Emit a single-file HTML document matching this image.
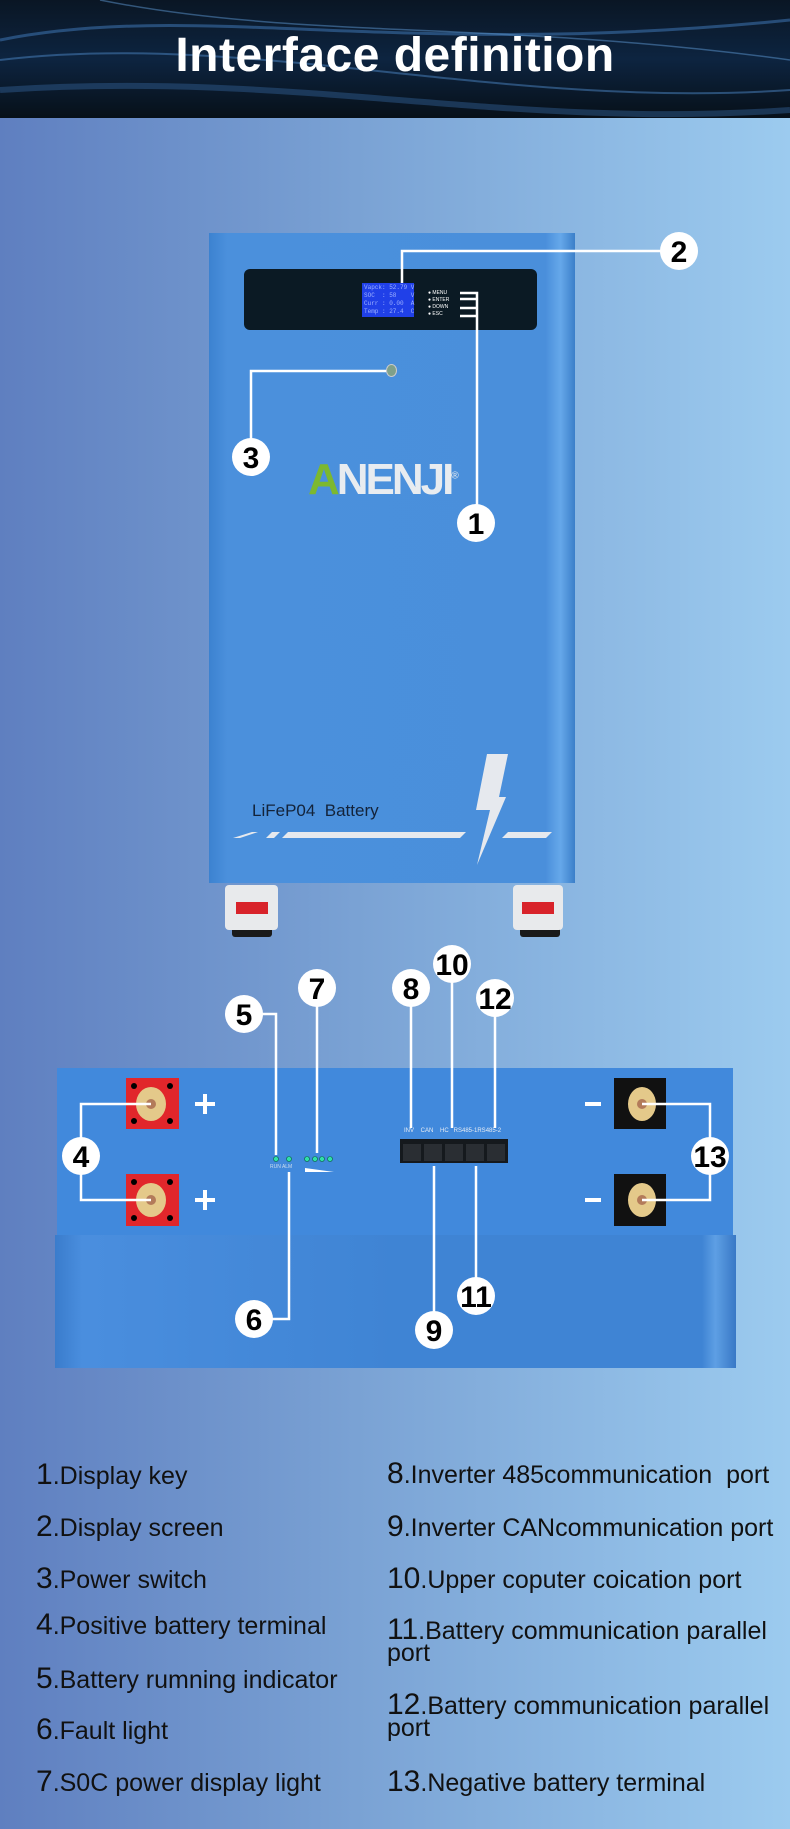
<!DOCTYPE html>
<html><head><meta charset="utf-8"><style>
*{margin:0;padding:0;box-sizing:border-box}
body{width:790px;height:1829px;position:relative;overflow:hidden;font-family:"Liberation Sans",sans-serif;background:linear-gradient(90deg,#5f7fc0 0%,#7aa2d4 45%,#9ccbef 100%)}
.abs{position:absolute}
.hdr{left:0;top:0;width:790px;height:118px;background:linear-gradient(180deg,#0a1624 0%,#0d2440 50%,#071019 100%);overflow:hidden}
.title{left:0;top:28px;width:790px;text-align:center;color:#fff;font-weight:bold;font-size:48px;letter-spacing:0.5px;font-family:"Liberation Sans Narrow","Liberation Sans",sans-serif}
.leg{font-family:"Liberation Sans Narrow","Liberation Sans",sans-serif;color:#111;font-size:25px;line-height:26px}
.leg b{font-size:30px;font-weight:normal}
</style></head><body>
<div class="abs hdr">
<svg width="790" height="118" style="position:absolute;left:0;top:0">
<path d="M0 40 C200 0 400 60 790 20" stroke="#3a6ea8" stroke-width="3" fill="none" opacity=".6"/>
<path d="M0 60 C250 30 500 110 790 90" stroke="#4c86c4" stroke-width="2" fill="none" opacity=".5"/>
<path d="M0 90 C300 70 500 130 790 110" stroke="#2d5a8c" stroke-width="6" fill="none" opacity=".5"/>
<path d="M100 0 C300 40 500 20 790 60" stroke="#5b95d0" stroke-width="1.5" fill="none" opacity=".5"/>
</svg>
</div>
<div class="abs title">Interface definition</div>

<!-- upper battery -->
<div class="abs" style="left:232px;top:925px;width:40px;height:12px;background:#1a1a1a;border-radius:3px"></div>
<div class="abs" style="left:520px;top:925px;width:40px;height:12px;background:#1a1a1a;border-radius:3px"></div>
<div class="abs" style="left:225px;top:885px;width:53px;height:45px;background:#e8eaec;border-radius:4px"></div>
<div class="abs" style="left:236px;top:902px;width:32px;height:12px;background:#d8232a"></div>
<div class="abs" style="left:513px;top:885px;width:50px;height:45px;background:#e8eaec;border-radius:4px"></div>
<div class="abs" style="left:522px;top:902px;width:32px;height:12px;background:#d8232a"></div>
<div class="abs" style="left:209px;top:233px;width:366px;height:650px;background:linear-gradient(90deg,#3c82d0 0%,#4b90dc 5%,#4a8fdb 92%,#66a8ea 96%,#3b7fc9 100%)"></div>
<div class="abs" style="left:244px;top:269px;width:293px;height:61px;background:#0b1a24;border-radius:6px"></div>
<div class="abs" style="left:362px;top:283px;width:52px;height:34px;background:#2040e8;color:#9db0ff;font-family:'Liberation Mono',monospace;font-size:6px;line-height:8px;padding:1px 2px;white-space:pre">Vapck: 52.79 V
SOC  : 58    V
Curr : 0.00  A
Temp : 27.4  C</div>
<div class="abs" style="left:428px;top:290px;color:#fff;font-size:5px;line-height:7px">
<div>● MENU</div><div>● ENTER</div><div>● DOWN</div><div>● ESC</div></div>
<div class="abs" style="left:386px;top:364px;width:11px;height:13px;border-radius:50%;background:#7fa08a;border:1px solid #ccc"></div>
<div class="abs" style="left:308px;top:455px;font-size:44px;font-weight:bold;color:#e8ecf0;font-family:'Liberation Sans Narrow','Liberation Sans',sans-serif;letter-spacing:-3px"><span style="color:#7cb82f">A</span>NENJI<sup style="font-size:10px;font-weight:normal">®</sup></div>
<div class="abs" style="left:252px;top:801px;font-size:17px;color:#13233a">LiFeP04&nbsp; Battery</div>
<svg class="abs" style="left:0;top:0" width="790" height="1829">
<g fill="#e6e9ee">
<polygon points="233,838 252,832 258,832 240,838"/>
<polygon points="266,838 272,832 280,832 274,838"/>
<polygon points="282,838 288,832 466,832 460,838"/>
<polygon points="502,838 508,832 552,832 546,838"/>
<polygon points="487,754 508,754 499,797 506,797 477,865 490,810 476,810"/>
</g>
<g stroke="#fff" stroke-width="2.5" fill="none">
<polyline points="402,283 402,251 662,251"/>
<polyline points="460,293 477,293 477,505"/>
<line x1="460" y1="299" x2="477" y2="299"/><line x1="460" y1="308" x2="477" y2="308"/><line x1="460" y1="316" x2="477" y2="316"/>
<polyline points="386,371 251,371 251,440"/>
</g>
</svg>

<!-- lower battery -->
<div class="abs" style="left:55px;top:1235px;width:681px;height:133px;background:linear-gradient(90deg,#3a7ccc 0%,#4a8ede 4%,#3f84d4 50%,#3f84d4 95%,#5e9fe4 97%,#3878c6 100%)"></div>
<div class="abs" style="left:57px;top:1068px;width:676px;height:167px;background:#4189dc"></div>
<div class="abs" style="left:126px;top:1078px;width:53px;height:51px;background:#e1262b"></div>
<div class="abs" style="left:126px;top:1174px;width:53px;height:52px;background:#e1262b"></div>
<div class="abs" style="left:614px;top:1078px;width:52px;height:51px;background:#111"></div>
<div class="abs" style="left:614px;top:1174px;width:52px;height:52px;background:#111"></div>
<div class="abs" style="left:400px;top:1139px;width:108px;height:24px;background:#15191d"></div>
<div class="abs" style="left:404px;top:1128px;color:#e6ecf4;font-size:6px;white-space:pre">INV    CAN    HC   RS485-1RS485-2</div>
<div class="abs" style="left:270px;top:1164px;color:#cde;font-size:5px">RUN ALM</div>
<svg class="abs" style="left:0;top:0" width="790" height="1829">
<g fill="#000"><circle cx="134" cy="1086" r="3"/><circle cx="170" cy="1086" r="3"/><circle cx="134" cy="1121" r="3"/><circle cx="170" cy="1121" r="3"/>
<circle cx="134" cy="1182" r="3"/><circle cx="170" cy="1182" r="3"/><circle cx="134" cy="1218" r="3"/><circle cx="170" cy="1218" r="3"/></g>
<g fill="#e4c98a"><ellipse cx="151" cy="1104" rx="15" ry="17"/><ellipse cx="151" cy="1200" rx="15" ry="17"/><ellipse cx="642" cy="1104" rx="14" ry="17"/><ellipse cx="642" cy="1200" rx="14" ry="17"/></g>
<g fill="#b37b5a"><circle cx="151" cy="1104" r="5"/><circle cx="151" cy="1200" r="5"/><circle cx="642" cy="1104" r="5"/><circle cx="642" cy="1200" r="5"/></g>
<g fill="#fff"><rect x="195" y="1102" width="20" height="4"/><rect x="203" y="1094" width="4" height="20"/>
<rect x="195" y="1198" width="20" height="4"/><rect x="203" y="1190" width="4" height="20"/>
<rect x="585" y="1102" width="16" height="4"/><rect x="585" y="1198" width="16" height="4"/>
<polygon points="305,1168 334,1172 305,1172"/></g>
<g fill="#2fe0a8" stroke="#0a6040" stroke-width=".6"><circle cx="276" cy="1159" r="2.5"/><circle cx="289" cy="1159" r="2.5"/><circle cx="307" cy="1159" r="2.5"/><circle cx="315" cy="1159" r="2.5"/><circle cx="322" cy="1159" r="2.5"/><circle cx="330" cy="1159" r="2.5"/></g>
<g fill="#2a2e33"><rect x="403" y="1144" width="18" height="17"/><rect x="424" y="1144" width="18" height="17"/><rect x="445" y="1144" width="18" height="17"/><rect x="466" y="1144" width="18" height="17"/><rect x="487" y="1144" width="18" height="17"/></g>
<g stroke="#fff" stroke-width="2.5" fill="none">
<polyline points="151,1104 81,1104 81,1200 151,1200"/>
<polyline points="642,1104 710,1104 710,1200 642,1200"/>
<polyline points="258,1014 276,1014 276,1155"/>
<line x1="317" y1="1000" x2="317" y2="1153"/>
<polyline points="270,1319 289,1319 289,1172"/>
<line x1="411" y1="1000" x2="411" y2="1128"/>
<line x1="452" y1="980" x2="452" y2="1128"/>
<line x1="495" y1="1010" x2="495" y2="1128"/>
<line x1="434" y1="1166" x2="434" y2="1315"/>
<line x1="476" y1="1166" x2="476" y2="1280"/>
</g>
<g fill="#fff">
<circle cx="679" cy="251" r="19"/><circle cx="476" cy="523" r="19"/><circle cx="251" cy="457" r="19"/>
<circle cx="81" cy="1156" r="19"/><circle cx="710" cy="1156" r="19"/><circle cx="244" cy="1014" r="19"/><circle cx="317" cy="988" r="19"/>
<circle cx="254" cy="1319" r="19"/><circle cx="411" cy="988" r="19"/><circle cx="452" cy="964" r="19"/><circle cx="495" cy="998" r="19"/>
<circle cx="434" cy="1330" r="19"/><circle cx="476" cy="1296" r="19"/></g>
<g font-family="Liberation Sans Narrow, Liberation Sans, sans-serif" font-weight="bold" font-size="30" text-anchor="middle" fill="#000">
<text x="679" y="262">2</text><text x="476" y="534">1</text><text x="251" y="468">3</text>
<text x="81" y="1167">4</text><text x="710" y="1167">13</text><text x="244" y="1025">5</text><text x="317" y="999">7</text>
<text x="254" y="1330">6</text><text x="411" y="999">8</text><text x="452" y="975">10</text><text x="495" y="1009">12</text>
<text x="434" y="1341">9</text><text x="476" y="1307">11</text></g>
</svg>

<div class="abs leg" style="left:36px;top:1462px"><b>1</b>.Display key</div>
<div class="abs leg" style="left:36px;top:1514px"><b>2</b>.Display screen</div>
<div class="abs leg" style="left:36px;top:1566px"><b>3</b>.Power switch</div>
<div class="abs leg" style="left:36px;top:1612px"><b>4</b>.Positive battery terminal</div>
<div class="abs leg" style="left:36px;top:1666px"><b>5</b>.Battery rumning indicator</div>
<div class="abs leg" style="left:36px;top:1717px"><b>6</b>.Fault light</div>
<div class="abs leg" style="left:36px;top:1769px"><b>7</b>.S0C power display light</div>
<div class="abs leg" style="left:387px;top:1461px"><b>8</b>.Inverter 485communication&nbsp; port</div>
<div class="abs leg" style="left:387px;top:1514px"><b>9</b>.Inverter CANcommunication port</div>
<div class="abs leg" style="left:387px;top:1566px"><b>10</b>.Upper coputer coication port</div>
<div class="abs leg" style="left:387px;top:1619px;width:400px;line-height:22px"><b>11</b>.Battery communication parallel<br>port</div>
<div class="abs leg" style="left:387px;top:1694px;width:400px;line-height:22px"><b>12</b>.Battery communication parallel<br>port</div>
<div class="abs leg" style="left:387px;top:1769px"><b>13</b>.Negative battery terminal</div>
</body></html>
